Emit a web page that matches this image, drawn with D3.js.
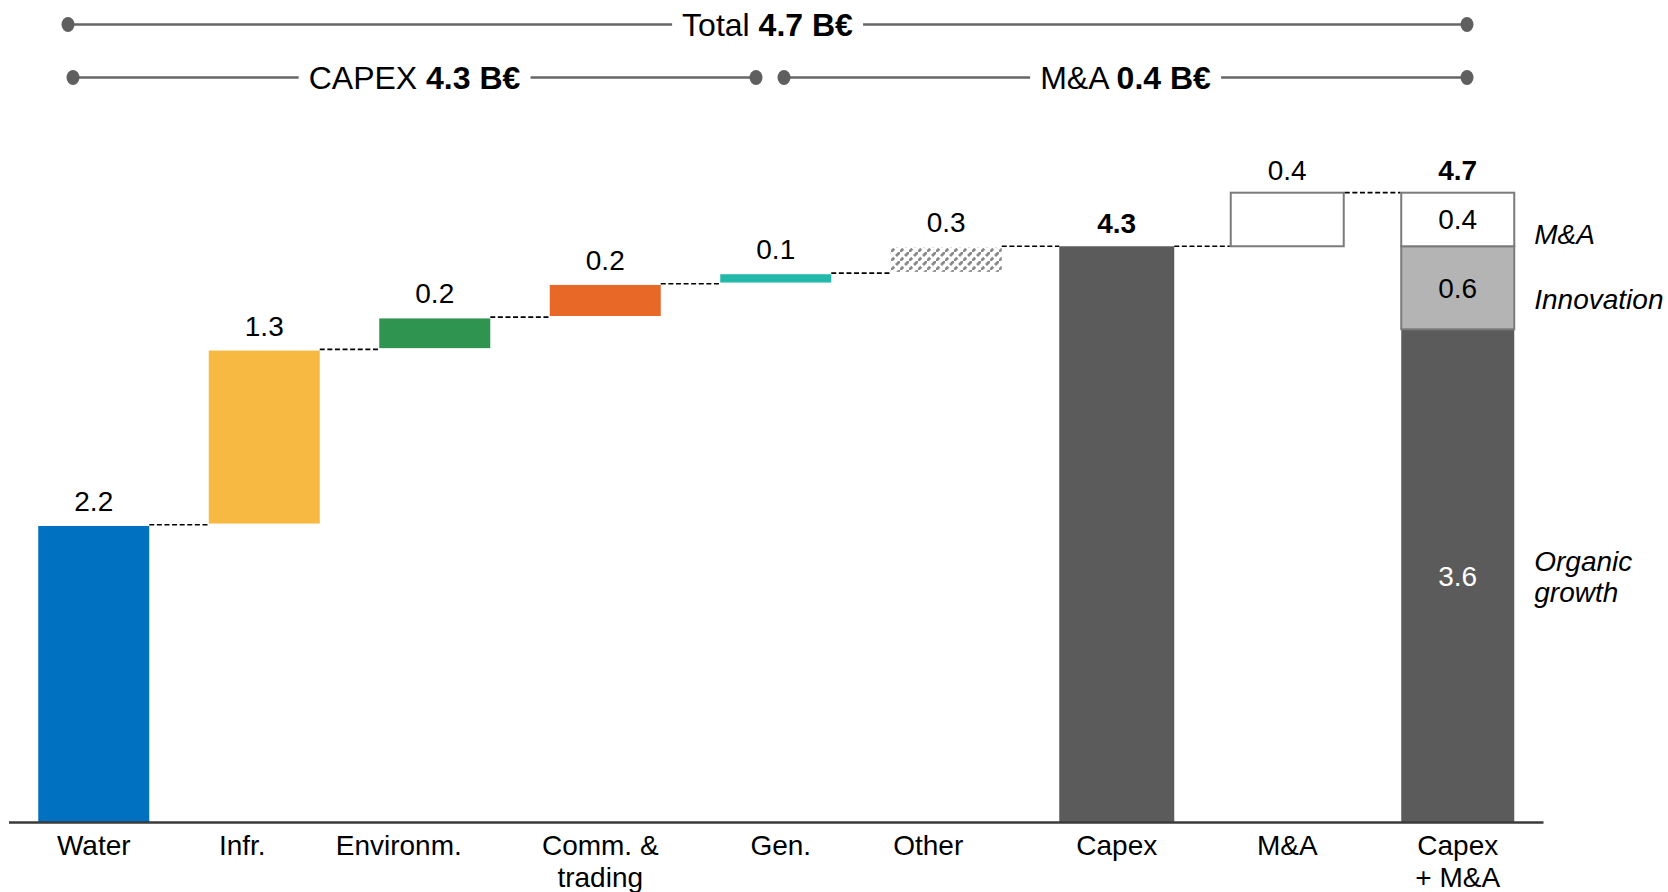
<!DOCTYPE html>
<html><head><meta charset="utf-8">
<script src="https://cdn.jsdelivr.net/npm/d3@7/dist/d3.min.js"></script>
<style>html,body{margin:0;padding:0;background:#fff;}svg{display:block;font-family:"Liberation Sans",Arial,sans-serif;}</style>
</head><body>
<svg id="chart" width="1668" height="892"></svg>
<script>
// ---- data ----
const categories = ["Water", "Infr.", "Environm.", "Comm. &\ntrading", "Gen.", "Other", "Capex", "M&A", "Capex\n+ M&A"];
const stepValues = [2.22, 1.31, 0.24, 0.25, 0.08, 0.20];
const stepLabels = ["2.2", "1.3", "0.2", "0.2", "0.1", "0.3"];
const stepColors = ["#0070C0", "#F8B942", "#2E9450", "#E86828", "#22B8AA", "hatch"];
const capexTotal = 4.3, capexLabel = "4.3";
const maValue = 0.4, maLabel = "0.4";
const stackNames = ["Organic\ngrowth", "Innovation", "M&A"];
const stackValues = [3.68, 0.62, 0.40];
const stackLabels = ["3.6", "0.6", "0.4"];
const grandLabel = "4.7";
const headers = [
  {pre: "Total ", bold: "4.7 B€", from: 68, to: 1467, row: 0},
  {pre: "CAPEX ", bold: "4.3 B€", from: 73, to: 756, row: 1},
  {pre: "M&A ", bold: "0.4 B€", from: 784, to: 1467, row: 1}
];
// horizontal nudges of the category labels (as in the original layout)
const labelShift = [0, -22, -36, -5, 5, -18, 0, 0, 0];

// ---- layout ----
const svg = d3.select("#chart");
const baseY = 822;
const x = d3.scaleBand().domain(categories).range([8.5, 8.5 + 9 * 170.5]).paddingInner(0.3255).paddingOuter(0.1628);
const y = d3.scaleLinear().domain([0, 4.7]).range([baseY, 192.7]);
const bw = x.bandwidth();

const defs = svg.append("defs");
const pat = defs.append("pattern").attr("id", "hatch").attr("patternUnits", "userSpaceOnUse")
  .attr("width", 9).attr("height", 9);
pat.append("path").attr("d", "M-1,10 L10,-1").attr("stroke", "#8a8a8a").attr("stroke-width", 2.8).attr("stroke-dasharray", "6,2.5");

const gap = 1.2;
const fs = 28;
const lblOff = 15, totOff = 13;

// waterfall steps
let cum = 0;
const steps = stepValues.map((v, i) => { const s = {i, start: cum, end: cum + v, v}; cum += v; return s; });

const connectors = [];
steps.forEach((s, i) => {
  const xx = x(categories[i]) + 2, w = bw - 4;
  const yTop = y(s.end) + gap;
  const yBot = s.start === 0 ? y(0) : y(s.start) - gap;
  svg.append("rect").attr("x", xx).attr("y", yTop).attr("width", w).attr("height", yBot - yTop)
    .attr("fill", stepColors[i] === "hatch" ? "url(#hatch)" : stepColors[i]);
  svg.append("text").attr("x", x(categories[i]) + bw / 2).attr("y", yTop - lblOff)
    .attr("text-anchor", "middle").attr("font-size", fs).attr("fill", "#000").text(stepLabels[i]);
  if (i < steps.length - 1) connectors.push({x1: xx + w, x2: x(categories[i + 1]) + 2, v: s.end});
});
connectors.push({x1: x(categories[5]) + bw - 2, x2: x(categories[6]), v: capexTotal});

// Capex total bar
svg.append("rect").attr("x", x(categories[6])).attr("y", y(capexTotal)).attr("width", bw)
  .attr("height", y(0) - y(capexTotal)).attr("fill", "#5B5B5B");
svg.append("text").attr("x", x(categories[6]) + bw / 2).attr("y", y(capexTotal) - totOff)
  .attr("text-anchor", "middle").attr("font-size", fs).attr("font-weight", "bold").text(capexLabel);
connectors.push({x1: x(categories[6]) + bw, x2: x(categories[7]), v: capexTotal});

// M&A floating box
svg.append("rect").attr("x", x(categories[7]) + 1).attr("y", y(capexTotal + maValue))
  .attr("width", bw - 2).attr("height", y(capexTotal) - y(capexTotal + maValue))
  .attr("fill", "#fff").attr("stroke", "#7a7a7a").attr("stroke-width", 2);
svg.append("text").attr("x", x(categories[7]) + bw / 2).attr("y", y(capexTotal + maValue) - totOff)
  .attr("text-anchor", "middle").attr("font-size", fs).text(maLabel);
connectors.push({x1: x(categories[7]) + bw, x2: x(categories[8]), v: capexTotal + maValue});

// stacked total bar
const stackFill = ["#5B5B5B", "#B4B4B4", "#fff"];
const stackText = ["#fff", "#000", "#000"];
const nameDy = [13, 21, 25];
let c2 = 0;
stackValues.forEach((v, i) => {
  const y0 = y(c2), y1 = y(c2 + v);
  svg.append("rect").attr("x", x(categories[8]) + 1).attr("y", y1).attr("width", bw - 2).attr("height", y0 - y1)
    .attr("fill", stackFill[i]).attr("stroke", i === 0 ? "none" : "#7a7a7a").attr("stroke-width", 2);
  svg.append("text").attr("x", x(categories[8]) + bw / 2).attr("y", (y0 + y1) / 2 + 10)
    .attr("text-anchor", "middle").attr("font-size", fs).attr("fill", stackText[i]).text(stackLabels[i]);
  const lines = stackNames[i].split("\n");
  const lx = x(categories[8]) + bw + 19;
  const cy = (y0 + y1) / 2 + nameDy[i];
  const t = svg.append("text").attr("x", lx).attr("font-size", fs).attr("font-style", "italic").attr("fill", "#000");
  lines.forEach((l, k) => t.append("tspan").attr("x", lx).attr("y", cy + (k - (lines.length - 1) / 2) * 31 - (i === 0 ? 2 : 0)).text(l));
  c2 += v;
});
svg.append("text").attr("x", x(categories[8]) + bw / 2).attr("y", y(c2) - totOff)
  .attr("text-anchor", "middle").attr("font-size", fs).attr("font-weight", "bold").text(grandLabel);

// connectors
svg.selectAll("line.conn").data(connectors).enter().append("line").attr("class", "conn")
  .attr("x1", d => d.x1).attr("x2", d => d.x2).attr("y1", d => y(d.v)).attr("y2", d => y(d.v))
  .attr("stroke", "#000").attr("stroke-width", 1.7).attr("stroke-dasharray", "5,2.6");

// axis
const axis = svg.append("g").attr("transform", `translate(0,${baseY})`)
  .call(d3.axisBottom(x).tickSize(0).tickFormat(""));
axis.select(".domain").attr("stroke", "#3a3a3a").attr("stroke-width", 2.5);
axis.selectAll(".tick").each(function(d, i) {
  const lines = d.split("\n");
  const t = d3.select(this).append("text").attr("fill", "#000").attr("font-size", fs)
    .attr("text-anchor", "middle").attr("font-family", '"Liberation Sans",Arial,sans-serif');
  lines.forEach((l, k) => t.append("tspan").attr("x", labelShift[i]).attr("y", 33 + k * 32).text(l));
});

// headers
const rowY = [24.5, 77.5];
headers.forEach(h => {
  const cx = (h.from + h.to) / 2, yy = rowY[h.row];
  const t = svg.append("text").attr("x", cx).attr("y", yy + 11).attr("text-anchor", "middle").attr("font-size", 32);
  t.append("tspan").text(h.pre);
  t.append("tspan").attr("font-weight", "bold").text(h.bold);
  const bb = t.node().getBBox();
  const g = 10;
  svg.append("line").attr("x1", h.from).attr("x2", bb.x - g).attr("y1", yy).attr("y2", yy).attr("stroke", "#666").attr("stroke-width", 2.5);
  svg.append("line").attr("x1", bb.x + bb.width + g).attr("x2", h.to).attr("y1", yy).attr("y2", yy).attr("stroke", "#666").attr("stroke-width", 2.5);
  [h.from, h.to].forEach(px => svg.append("ellipse").attr("cx", px).attr("cy", yy).attr("rx", 6.5).attr("ry", 7.5).attr("fill", "#5f5f5f"));
});
</script>
</body></html>
